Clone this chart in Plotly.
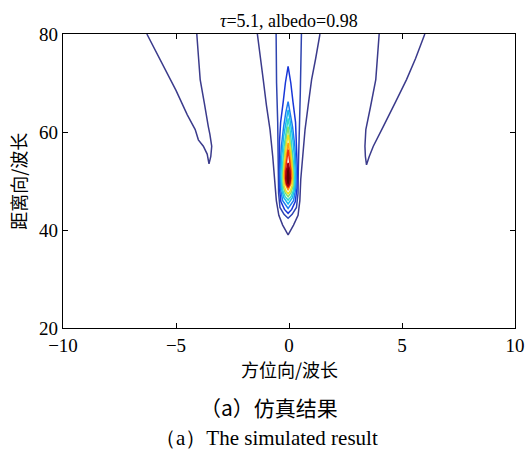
import plotly.graph_objects as go

# ---- data (contour paths, data units) ----
x_ticks = [-10, -5, 0, 5, 10]
y_ticks = [20, 40, 60, 80]

# side lobes (lowest level)
lobe_left_x = [-6.29, -5.6, -5.0, -4.5, -4.15, -4.01, -3.79, -3.62, -3.54, -3.46, -3.42, -3.50, -3.57, -3.75, -3.93, -4.0, -4.08]
lobe_left_y = [80, 74, 68.5, 63.5, 60.5, 58.4, 57.1, 55.5, 53.5, 55.0, 57.1, 59.5, 61.1, 66, 70.7, 75, 80]
lobe_right_x = [3.99, 3.90, 3.84, 3.6, 3.40, 3.36, 3.38, 3.43, 3.5, 3.55, 3.73, 3.95, 4.17, 4.7, 5.20, 5.6, 6.01]
lobe_right_y = [80, 75, 70.7, 65, 60.5, 57.1, 55, 53.3, 54.5, 55.0, 57.1, 59, 61.1, 66, 70.7, 75, 80]

# central contours, from outermost level to innermost
c1_x = [-1.40, -1.25, -1.14, -1.0, -0.84, -0.72, -0.62, -0.56, -0.45, -0.28, -0.04, 0.20, 0.40, 0.48, 0.52, 0.60, 0.71, 0.85, 1.0, 1.18, 1.37]
c1_y = [80, 75, 70.7, 65.5, 60.5, 55, 50.3, 46, 43, 41, 39.0, 41, 43, 46, 50.3, 55, 60.5, 65.5, 70.7, 75, 80]
c2_x = [-0.57, -0.55, -0.50, -0.47, -0.46, -0.46, -0.40, -0.22, -0.04, 0.14, 0.33, 0.40, 0.41, 0.45, 0.50, 0.55]
c2_y = [80, 70, 62, 56, 52, 47.5, 44.6, 43.2, 42.4, 43.2, 44.6, 47.5, 52, 58, 68, 80]
c3_x = [-0.04, -0.16, -0.26, -0.37, -0.42, -0.44, -0.42, -0.36, -0.20, -0.04, 0.12, 0.28, 0.35, 0.37, 0.34, 0.29, 0.18, 0.08, -0.04]
c3_y = [73.4, 70, 66, 62, 58, 52, 48.5, 45.8, 44.2, 43.4, 44.2, 45.8, 48.5, 52, 58, 62, 66, 70, 73.4]
c4_x = [-0.04, -0.14, -0.24, -0.34, -0.40, -0.38, -0.28, -0.04, 0.20, 0.30, 0.32, 0.26, 0.16, 0.06, -0.04]
c4_y = [66.2, 64, 61, 57, 52, 48.5, 46.0, 44.4, 46.0, 48.5, 52, 57, 61, 64, 66.2]
c5_x = [-0.04, -0.14, -0.24, -0.32, -0.36, -0.33, -0.23, -0.04, 0.15, 0.25, 0.28, 0.24, 0.16, 0.06, -0.04]
c5_y = [64.5, 62, 59, 55, 51, 48.5, 46.6, 45.3, 46.6, 48.5, 51, 55, 59, 62, 64.5]
c6_x = [-0.04, -0.14, -0.22, -0.29, -0.32, -0.27, -0.17, -0.04, 0.09, 0.19, 0.24, 0.21, 0.14, 0.06, -0.04]
c6_y = [62.8, 60, 57, 53, 50, 48.0, 46.8, 46.1, 46.8, 48.0, 50, 53, 57, 60, 62.8]
c7_x = [-0.04, -0.13, -0.21, -0.27, -0.26, -0.17, -0.04, 0.09, 0.18, 0.19, 0.13, 0.05, -0.04]
c7_y = [61.1, 58.5, 55, 51.5, 49, 47.6, 46.8, 47.6, 49, 51.5, 55, 58.5, 61.1]
c8_x = [-0.04, -0.13, -0.20, -0.24, -0.21, -0.14, -0.04, 0.06, 0.13, 0.16, 0.12, 0.05, -0.04]
c8_y = [59.4, 57, 54, 51, 49, 48.0, 47.4, 48.0, 49, 51, 54, 57, 59.4]
c9_x = [-0.04, -0.12, -0.18, -0.21, -0.17, -0.04, 0.09, 0.13, 0.10, 0.04, -0.04]
c9_y = [57.8, 55.5, 53, 51, 49.5, 48.1, 49.5, 51, 53, 55.5, 57.8]
c10_x = [-0.04, -0.11, -0.16, -0.16, -0.11, -0.04, 0.03, 0.08, 0.08, 0.03, -0.04]
c10_y = [56.4, 54, 52, 50.5, 49.2, 48.6, 49.2, 50.5, 52, 54, 56.4]
c11_x = [-0.04, -0.12, -0.14, -0.11, -0.04, 0.03, 0.06, 0.04, -0.04]
c11_y = [53.7, 52, 50.5, 49.5, 48.9, 49.5, 50.5, 52, 53.7]

level_colors = ['#3b3b8c', '#2f44b0', '#1836d8', '#1e7cf0', '#18b8f0', '#30d8d0',
                '#80e070', '#f0e020', '#ffa010', '#f03010', '#a00010']

paths = [
    (lobe_left_x, lobe_left_y, 0),
    (lobe_right_x, lobe_right_y, 0),
    (c1_x, c1_y, 0),
    (c2_x, c2_y, 1),
    (c3_x, c3_y, 2),
    (c4_x, c4_y, 3),
    (c5_x, c5_y, 4),
    (c6_x, c6_y, 5),
    (c7_x, c7_y, 6),
    (c8_x, c8_y, 7),
    (c9_x, c9_y, 8),
    (c10_x, c10_y, 9),
]

fig = go.Figure()
for px, py, lvl in paths:
    fig.add_trace(go.Scatter(x=px, y=py, mode='lines',
                             line=dict(color=level_colors[lvl], width=1.5),
                             hoverinfo='skip', showlegend=False))
fig.add_trace(go.Scatter(x=c11_x, y=c11_y, mode='lines', fill='toself',
                         fillcolor='#600000',
                         line=dict(color=level_colors[10], width=1.5),
                         hoverinfo='skip', showlegend=False))

serif = "Liberation Serif, Times New Roman, serif"
cjk = "Noto Sans CJK SC"

axis_common = dict(showline=True, linecolor='black', linewidth=1.2, mirror='ticks',
                   ticks='inside', ticklen=5, tickcolor='black', tickwidth=1,
                   showgrid=False, zeroline=False, automargin=False,
                   tickfont=dict(family=serif, size=19, color='black'))

fig.update_xaxes(range=[-10, 10], tickvals=x_ticks,
                 ticktext=[('\u2212' + str(-v)) if v < 0 else str(v) for v in x_ticks],
                 **axis_common)
fig.update_yaxes(range=[20, 80], tickvals=y_ticks, **axis_common)

fig.update_layout(
    width=530, height=452,
    margin=dict(l=63, r=15, t=34, b=124),
    plot_bgcolor='white', paper_bgcolor='white',
    showlegend=False,
    annotations=[
        dict(text='<i>\u03c4</i>=5.1, albedo=0.98', x=0.5, y=1.0, xref='paper', yref='paper',
             xanchor='center', yanchor='bottom', yshift=1, showarrow=False,
             font=dict(family=serif, size=18, color='black')),
        dict(text='方位向/波长', x=0.5, y=-0.138, xref='paper', yref='paper',
             xanchor='center', yanchor='middle', showarrow=False,
             font=dict(family=cjk, size=18, color='black')),
        dict(text='距离向/波长', x=-0.1, y=0.5, xref='paper', yref='paper',
             xanchor='center', yanchor='middle', textangle=-90, showarrow=False,
             font=dict(family=cjk, size=18, color='black')),
        dict(text='（a）仿真结果', x=0.455, y=-0.268, xref='paper', yref='paper',
             xanchor='center', yanchor='middle', showarrow=False,
             font=dict(family=cjk, size=21, color='black')),
        dict(text='（a）The simulated result', x=0.45, y=-0.374, xref='paper', yref='paper',
             xanchor='center', yanchor='middle', showarrow=False,
             font=dict(family=serif, size=21, color='black')),
    ],
)

fig.write_html("out.html", config={'displayModeBar': False},
               post_script="document.body.style.margin='0';document.body.style.overflow='hidden';")
